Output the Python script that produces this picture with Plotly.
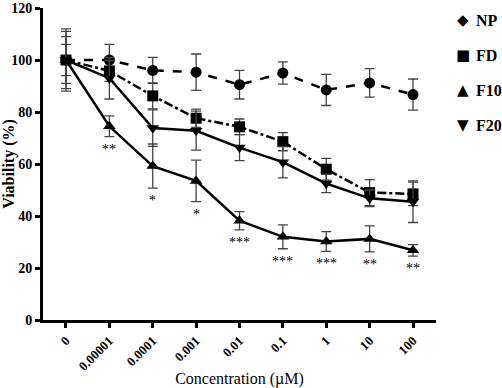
import plotly.graph_objects as go

categories = ["0", "0.00001", "0.0001", "0.001", "0.01", "0.1", "1", "10", "100"]

np_vals = [100, 100, 96, 95.3, 90.5, 95, 88.5, 91.2, 86.7]
np_err = [11, 6, 5, 7, 5.5, 4.3, 6, 5.5, 6]

fd_vals = [100, 95.8, 86.2, 77.6, 74.3, 68.6, 58, 49, 48.5]
fd_err = [6, 4, 5, 3.5, 3, 3.5, 4.2, 5, 4.5]

f10_vals = [100, 74.5, 59.2, 53.5, 38.2, 32, 30.2, 31.2, 26.8]
f10_err = [9, 4, 8.5, 8, 3.5, 4.6, 3.8, 5, 2.2]

f20_vals = [100, 93, 73.8, 72.8, 66.3, 60.7, 52.5, 46.8, 45.5]
f20_err = [12, 8, 7, 7.5, 5, 6, 3.5, 3.2, 8]

sig_labels = ["", "**", "*", "*", "***", "***", "***", "**", "**"]

series_names = ["NP", "FD", "F10", "F20"]
legend_glyphs = ["◆", "■", "▲", "▼"]

series = [
    (np_vals, np_err, "dash", "circle"),
    (fd_vals, fd_err, "dashdot", "square"),
    (f10_vals, f10_err, "solid", "triangle-up"),
    (f20_vals, f20_err, "solid", "triangle-down"),
]

SERIF = "Liberation Serif, Times New Roman, serif"

fig = go.Figure()
for name, (vals, err, dash, sym) in zip(series_names, series):
    fig.add_trace(go.Scatter(
        x=categories, y=vals, mode="lines+markers", name=name, showlegend=False,
        line=dict(color="black", width=2.5, dash=dash),
        marker=dict(symbol=sym, size=11, color="black"),
        error_y=dict(type="data", array=err, visible=True, color="#444", thickness=1.3, width=5),
    ))

for i, (v, e, lab) in enumerate(zip(f10_vals, f10_err, sig_labels)):
    if lab:
        fig.add_annotation(x=i, y=v - e, xref="x", yref="y", text=lab, showarrow=False,
                           yanchor="top", yshift=-3,
                           font=dict(family=SERIF, size=14, color="black"))

# manual legend (markers only, as in the reference)
leg_top, leg_step = 0.96, 0.112
for k, (name, glyph) in enumerate(zip(series_names, legend_glyphs)):
    yy = leg_top - k * leg_step
    fig.add_annotation(x=1.069, y=yy, xref="paper", yref="paper", text=glyph,
                       showarrow=False, xanchor="center", yanchor="middle",
                       font=dict(family="DejaVu Sans", size=15, color="black"))
    fig.add_annotation(x=1.097, y=yy, xref="paper", yref="paper", text=name,
                       showarrow=False, xanchor="left", yanchor="middle",
                       font=dict(family=SERIF, size=16, color="black", weight="bold"))

fig.update_layout(
    width=502, height=388,
    margin=dict(l=43, r=66, t=8, b=68),
    paper_bgcolor="white", plot_bgcolor="white",
    showlegend=False,
    font=dict(family=SERIF, color="black"),
)
fig.update_xaxes(
    type="category", range=[-0.53, 8.53], automargin=False,
    showline=True, linecolor="black", linewidth=3,
    ticks="outside", ticklen=5, tickwidth=2.5, tickcolor="black",
    tickangle=-45,
    tickfont=dict(family=SERIF, size=13, color="black", weight="bold"),
    title=dict(text="Concentration (µM)", font=dict(family=SERIF, size=16, color="black"), standoff=2),
    showgrid=False, zeroline=False,
)
fig.update_yaxes(
    range=[0, 120], tickvals=[0, 20, 40, 60, 80, 100, 120], automargin=False,
    showline=True, linecolor="black", linewidth=3,
    ticks="outside", ticklen=5, tickwidth=2.5, tickcolor="black",
    tickfont=dict(family=SERIF, size=14, color="black", weight="bold"),
    title=dict(text="Viability (%)", font=dict(family=SERIF, size=16, color="black", weight="bold"), standoff=4),
    showgrid=False, zeroline=False,
)

fig.write_html("out.html", config={"displayModeBar": False},
               post_script="document.body.style.margin='0';")
